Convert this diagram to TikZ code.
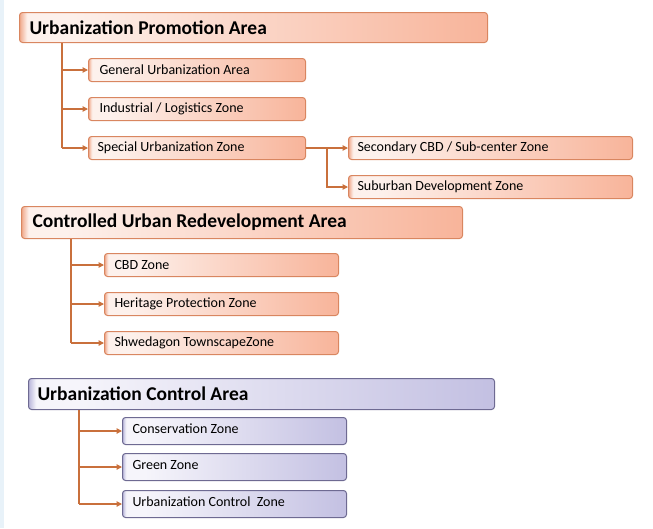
\documentclass[tikz,border=0pt]{standalone}
\usepackage{fontspec}
\setmainfont{Carlito}
\usetikzlibrary{arrows.meta,calc}
\definecolor{orD}{HTML}{F0A88A}
\definecolor{orL}{HTML}{FDF1EC}
\definecolor{orR}{HTML}{F8B49A}
\definecolor{orB}{HTML}{D98660}
\definecolor{puD}{HTML}{B8B5DA}
\definecolor{puL}{HTML}{F6F5FB}
\definecolor{puR}{HTML}{C3C0E2}
\definecolor{puB}{HTML}{6E6A92}
\definecolor{arrC}{HTML}{C9703C}
\definecolor{stripC}{HTML}{E8F2F9}
\pgfdeclarehorizontalshading{orgrad}{100bp}{color(0bp)=(orD); color(25bp)=(orD); color(25.8bp)=(orL); color(30bp)=(orL); color(75bp)=(orR); color(100bp)=(orR)}
\pgfdeclarehorizontalshading{pugrad}{100bp}{color(0bp)=(puD); color(25bp)=(puD); color(25.8bp)=(puL); color(30bp)=(puL); color(75bp)=(puR); color(100bp)=(puR)}
\newcommand{\lt}[2]{\makebox[#1][l]{#2}}
\tikzset{
  obox/.style={draw=orB, line width=1pt, rounded corners=3pt, shading=orgrad, anchor=north west, inner xsep=0pt, inner ysep=0pt, text=black},
  pbox/.style={draw=puB, line width=1pt, rounded corners=3pt, shading=pugrad, anchor=north west, inner xsep=0pt, inner ysep=0pt, text=black},
  ttl/.style={font=\fontsize{19.5}{22}\selectfont\bfseries},
  sub/.style={font=\fontsize{14}{16}\selectfont},
  arr/.style={draw=arrC, line width=1.1pt, -{Triangle[length=5.5pt,width=5.5pt]}},
  lin/.style={draw=arrC, line width=1.1pt}
}
\begin{document}
\begin{tikzpicture}[x=1pt,y=-1pt]
\useasboundingbox (0,0) rectangle (653,528);
\fill[stripC] (0,0) rectangle (4,528);
% group 1
\node[obox, ttl, minimum width=468pt, minimum height=30pt] (A) at (19,12) {\lt{448pt}{Urbanization Promotion Area}};
\node[obox, sub, minimum width=217pt, minimum height=23pt] (a1) at (88,58) {\lt{195pt}{General Urbanization Area}};
\node[obox, sub, minimum width=217pt, minimum height=23pt] (a2) at (88,97) {\lt{195pt}{Industrial / Logistics Zone}};
\node[obox, sub, minimum width=217pt, minimum height=23pt] (a3) at (88,136) {\lt{199pt}{Special Urbanization Zone}};
\node[obox, sub, minimum width=284pt, minimum height=23pt] (a31) at (348,136) {\lt{266pt}{Secondary CBD / Sub-center Zone}};
\node[obox, sub, minimum width=284pt, minimum height=23pt] (a32) at (348,175) {\lt{266pt}{Suburban Development Zone}};
\coordinate (At) at ($(A.south west)+(43,0)$);
\draw[lin] (At) -- (At |- a3.west);
\draw[arr] (At |- a1.west) -- (a1.west);
\draw[arr] (At |- a2.west) -- (a2.west);
\draw[arr] (At |- a3.west) -- (a3.west);
\draw[arr] (a3.east) -- (a31.west);
\coordinate (Sb) at ($(a3.east)!0.5!(a31.west)$);
\draw[arr] (Sb) |- (a32.west);
% group 2
\node[obox, ttl, minimum width=441pt, minimum height=32pt] (B) at (21,206) {\lt{419pt}{Controlled Urban Redevelopment Area}};
\node[obox, sub, minimum width=234pt, minimum height=23pt] (b1) at (104,253) {\lt{214pt}{CBD Zone}};
\node[obox, sub, minimum width=234pt, minimum height=23pt] (b2) at (104,292) {\lt{214pt}{Heritage Protection Zone}};
\node[obox, sub, minimum width=234pt, minimum height=23pt] (b3) at (104,331) {\lt{214pt}{Shwedagon TownscapeZone}};
\coordinate (Bt) at ($(B.south west)+(50,0)$);
\draw[lin] (Bt) -- (Bt |- b3.west);
\draw[arr] (Bt |- b1.west) -- (b1.west);
\draw[arr] (Bt |- b2.west) -- (b2.west);
\draw[arr] (Bt |- b3.west) -- (b3.west);
% group 3
\node[pbox, ttl, minimum width=466pt, minimum height=31pt] (C) at (28,378) {\lt{448pt}{Urbanization Control Area}};
\node[pbox, sub, minimum width=224pt, minimum height=27pt] (c1) at (122,417) {\raisebox{4pt}{\lt{204pt}{Conservation Zone}}};
\node[pbox, sub, minimum width=224pt, minimum height=27pt] (c2) at (122,453) {\raisebox{4pt}{\lt{204pt}{Green Zone}}};
\node[pbox, sub, minimum width=224pt, minimum height=27pt] (c3) at (122,490) {\raisebox{4pt}{\lt{204pt}{Urbanization Control\ \ Zone}}};
\coordinate (Ct) at ($(C.south west)+(51,0)$);
\draw[lin] (Ct) -- (Ct |- c3.west);
\draw[arr] (Ct |- c1.west) -- (c1.west);
\draw[arr] (Ct |- c2.west) -- (c2.west);
\draw[arr] (Ct |- c3.west) -- (c3.west);
\end{tikzpicture}
\end{document}
